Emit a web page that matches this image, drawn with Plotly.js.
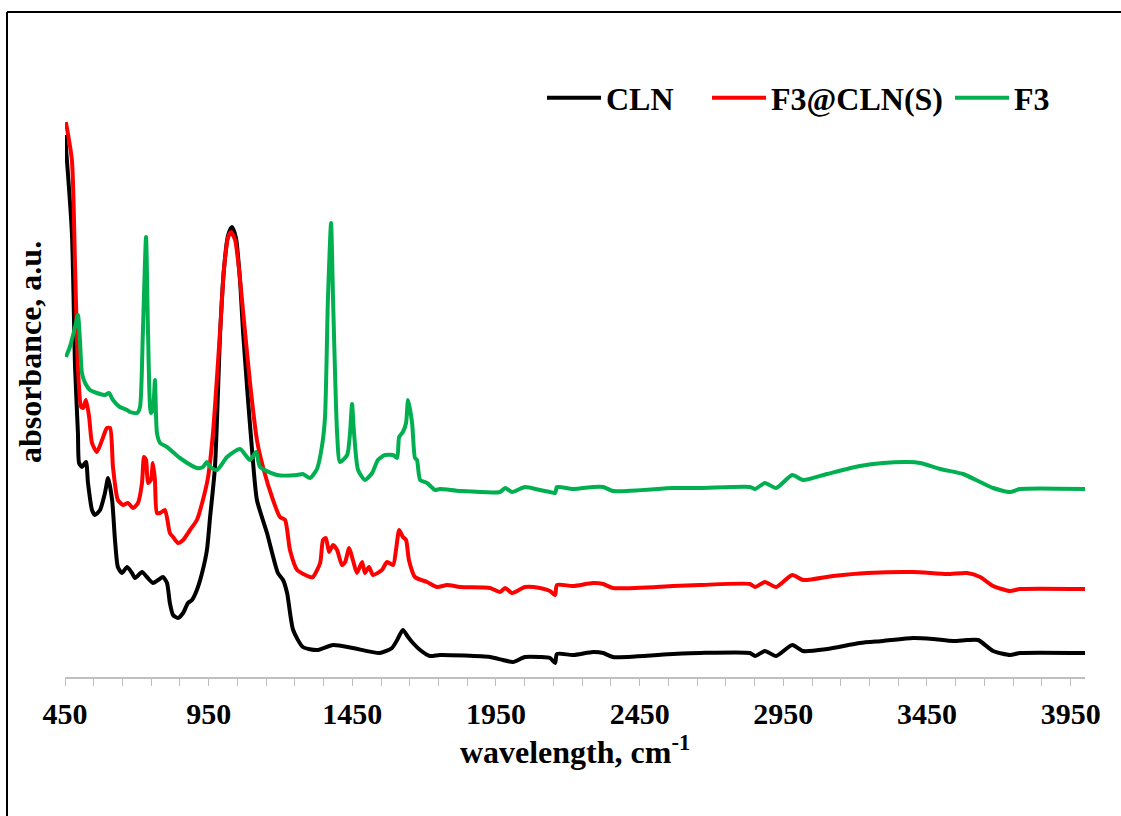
<!DOCTYPE html>
<html>
<head>
<meta charset="utf-8">
<script src="https://cdn.plot.ly/plotly-3.0.1.min.js"></script>
<style>html,body{margin:0;padding:0;background:#fff;}#chart{width:1121px;height:816px;}</style>
</head>
<body>
<div id="chart"></div>
<script>
// CLN
const clnX = [450,474,485,495,499,509,523,530,544,554,572,589,600,614,624,634,648,666,683,694,718,735,756,774,791,805,815,826,843,861,878,892,909,927,944,955,972,990,1003,1017,1031,1045,1059,1070,1087,1101,1118,1153,1191,1209,1223,1244,1278,1327,1383,1452,1546,1588,1606,1626,1644,1661,1686,1720,1755,1929,1974,2009,2051,2103,2138,2156,2162,2218,2288,2323,2357,2566,2660,2834,2852,2886,2925,2981,3019,3102,3217,3297,3402,3471,3541,3590,3628,3680,3739,3774,4000];
const clnY = [5.42,4.44,3.10,2.44,2.14,2.10,2.15,1.94,1.67,1.62,1.67,1.84,1.99,1.77,1.37,1.10,1.04,1.10,1.04,0.99,1.05,1.00,0.94,0.97,1.00,0.94,0.74,0.62,0.59,0.64,0.74,0.77,0.87,1.04,1.27,1.60,2.10,3.44,4.07,4.41,4.50,4.39,3.97,3.44,2.77,2.27,1.77,1.44,1.04,0.97,0.84,0.47,0.30,0.27,0.32,0.29,0.24,0.29,0.37,0.47,0.40,0.34,0.27,0.21,0.22,0.20,0.17,0.15,0.20,0.20,0.19,0.14,0.23,0.22,0.25,0.24,0.20,0.23,0.24,0.24,0.21,0.26,0.21,0.32,0.26,0.28,0.34,0.36,0.39,0.38,0.36,0.37,0.37,0.26,0.22,0.24,0.24];

// F3@CLN(S)
const f3clnX = [453,474,485,495,506,513,523,534,544,561,579,596,607,617,634,652,669,687,704,718,725,732,739,749,756,763,770,781,798,815,826,843,861,885,909,930,948,965,990,1003,1017,1028,1042,1056,1066,1094,1118,1139,1174,1198,1216,1233,1258,1303,1313,1338,1348,1358,1369,1383,1397,1414,1425,1439,1452,1466,1484,1494,1508,1522,1553,1571,1592,1602,1613,1626,1637,1647,1668,1710,1745,1780,1825,1929,1964,1982,2006,2051,2103,2138,2156,2162,2218,2288,2323,2357,2566,2660,2834,2852,2886,2925,2981,3019,3123,3242,3402,3520,3590,3635,3680,3739,3774,4000];
const f3clnY = [5.55,5.17,4.10,3.10,2.70,2.69,2.77,2.60,2.34,2.25,2.37,2.49,2.49,2.10,1.77,1.72,1.74,1.69,1.74,1.94,2.20,2.17,1.94,1.97,2.14,1.97,1.64,1.64,1.67,1.44,1.40,1.34,1.37,1.47,1.57,1.77,2.00,2.44,3.47,4.07,4.39,4.45,4.37,4.07,3.77,2.94,2.37,2.10,1.77,1.60,1.57,1.27,1.07,1.00,1.00,1.14,1.37,1.39,1.25,1.32,1.27,1.12,1.15,1.29,1.17,1.04,1.15,1.04,1.10,1.02,1.07,1.15,1.12,1.27,1.47,1.40,1.37,1.17,1.00,0.95,0.90,0.92,0.90,0.89,0.85,0.89,0.84,0.90,0.89,0.86,0.82,0.92,0.91,0.94,0.93,0.89,0.91,0.92,0.93,0.90,0.95,0.90,1.02,0.97,1.01,1.04,1.05,1.03,1.04,1.00,0.91,0.86,0.88,0.88];

// F3
const f3X = [453,467,485,495,502,509,520,537,561,589,603,617,641,666,676,701,711,721,732,739,749,756,763,770,781,805,850,909,930,944,955,979,1014,1059,1094,1115,1129,1188,1258,1278,1303,1327,1345,1355,1365,1376,1383,1397,1407,1432,1442,1449,1456,1470,1494,1519,1539,1564,1592,1606,1613,1626,1637,1644,1658,1668,1675,1686,1710,1738,1755,1825,1964,1982,2006,2051,2103,2138,2156,2162,2218,2288,2323,2357,2566,2660,2834,2852,2886,2925,2981,3019,3102,3217,3297,3384,3426,3496,3576,3635,3680,3739,3774,4000];
const f3Y = [3.20,3.30,3.50,3.62,3.37,3.04,2.94,2.87,2.84,2.82,2.84,2.77,2.70,2.67,2.65,2.64,2.70,3.44,4.40,3.44,2.64,2.67,2.97,2.44,2.34,2.30,2.19,2.09,2.10,2.15,2.10,2.07,2.20,2.28,2.17,2.25,2.10,2.02,2.02,2.03,1.99,2.08,2.32,2.60,3.77,4.54,3.77,2.44,2.15,2.22,2.44,2.73,2.44,2.07,1.97,2.04,2.17,2.22,2.22,2.19,2.40,2.45,2.54,2.77,2.54,2.19,2.17,1.97,1.94,1.87,1.88,1.86,1.85,1.89,1.85,1.90,1.87,1.85,1.84,1.90,1.88,1.90,1.90,1.86,1.89,1.89,1.90,1.88,1.94,1.89,2.02,1.97,2.03,2.11,2.14,2.15,2.14,2.08,2.03,1.95,1.89,1.85,1.88,1.88];

const seriesNames = ['CLN', 'F3@CLN(S)', 'F3'];
const seriesColors = ['#000000', '#ff0000', '#00b050'];
const xTitle = 'wavelength, cm<sup>-1</sup>';
const yTitle = 'absorbance, a.u.';

const fontFam = 'Liberation Serif, Times New Roman, serif';
const xs = [clnX, f3clnX, f3X];
const ys = [clnY, f3clnY, f3Y];
const legendIds = ['legend', 'legend2', 'legend3'];

const traces = seriesNames.map((n, i) => ({
  type: 'scatter', mode: 'lines', name: n,
  x: xs[i], y: ys[i], legend: legendIds[i],
  line: {color: seriesColors[i], width: 4, shape: 'spline', smoothing: 0.6}
}));

// plot area: x 65..1085 px, y 27..677 px
const L = 65, W = 1020, B = 677, H = 650;
const px2x = p => (p - L) / W;
const py2y = p => (B - p) / H;

function legendAt(pxLeft) {
  return {
    orientation: 'h', x: px2x(pxLeft), xanchor: 'left', y: py2y(98), yanchor: 'middle',
    font: {family: fontFam, size: 32, color: '#000000', weight: 'bold'},
    bgcolor: 'rgba(0,0,0,0)', itemwidth: 54
  };
}

const layout = {
  width: 1121, height: 816,
  margin: {l: 65, r: 36, t: 27, b: 139},
  paper_bgcolor: '#ffffff', plot_bgcolor: '#ffffff',
  font: {family: fontFam, color: '#000000', size: 30, weight: 'bold'},
  showlegend: true,
  legend: legendAt(542),
  legend2: legendAt(707),
  legend3: legendAt(950),
  xaxis: {
    range: [450, 4000], tick0: 450, dtick: 500,
    showgrid: false, zeroline: false,
    showline: true, linecolor: '#bfbfbf', linewidth: 1.5,
    ticks: 'outside', ticklen: 7, tickcolor: '#bfbfbf', tickwidth: 1,
    minor: {dtick: 100, tick0: 450, ticks: 'outside', ticklen: 7, tickcolor: '#bfbfbf', tickwidth: 1, showgrid: false},
    tickfont: {family: fontFam, size: 30, color: '#000000', weight: 'bold'},
    ticklabelstandoff: 2,
    title: {text: xTitle, font: {family: fontFam, size: 32, color: '#000000', weight: 'bold'}, standoff: 12}
  },
  yaxis: {
    range: [0, 6.5],
    showgrid: false, zeroline: false, showline: false, showticklabels: false, ticks: '',
    title: {text: yTitle, font: {family: fontFam, size: 32, color: '#000000', weight: 'bold'}, standoff: 12}
  },
  shapes: [
    {type: 'line', xref: 'paper', yref: 'paper', x0: px2x(7), x1: px2x(1125), y0: py2y(12), y1: py2y(12), line: {color: '#000000', width: 2}},
    {type: 'line', xref: 'paper', yref: 'paper', x0: px2x(7), x1: px2x(7), y0: py2y(12), y1: py2y(820), line: {color: '#000000', width: 2}}
  ]
};

Plotly.newPlot('chart', traces, layout, {displayModeBar: false, staticPlot: true});
</script>
</body>
</html>
